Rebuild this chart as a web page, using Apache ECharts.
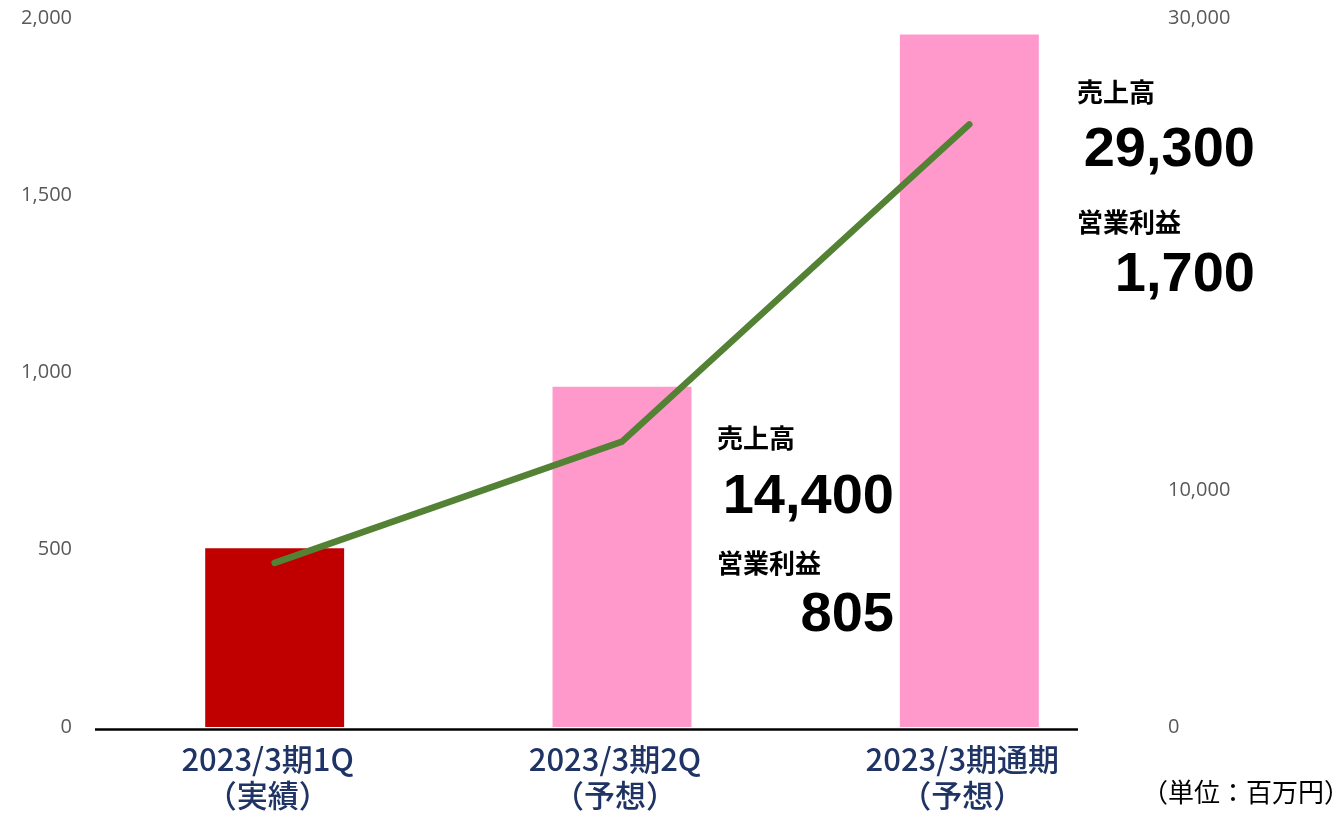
<!DOCTYPE html>
<html><head><meta charset="utf-8">
<script src="https://cdn.jsdelivr.net/npm/echarts@6/dist/echarts.min.js"></script>
<style>html,body{margin:0;padding:0;background:#fff}#c{width:1342px;height:819px}</style>
</head><body><div id="c"></div>
<script>
const categories = ['2023/3期1Q\n（実績）', '2023/3期2Q\n（予想）', '2023/3期通期\n（予想）'];
const sales = [7560, 14400, 29300];          // 売上高 (right axis)
const profit = [463, 805, 1700];             // 営業利益 (left axis)
const barColors = ['#C00000', '#FF99CC', '#FF99CC'];
const leftTicks = ['0', '500', '1,000', '1,500', '2,000'];
const rightTicks = ['0', '10,000', '', '30,000'];
const unitLabel = '（単位：百万円）';
const salesName = '売上高';
const profitName = '営業利益';

const fmt = v => v.toLocaleString('en-US');
const chart = echarts.init(document.getElementById('c'));
const cjk = '"Noto Sans CJK JP", sans-serif';
const num = '"Liberation Sans", Arial, sans-serif';

function annot(i, x, rightPad, tops) {
  return [
    {type:'text', left:x, top:tops[0], style:{text:salesName, font:'bold 26px ' + cjk, fill:'#000'}},
    {type:'text', right:rightPad, top:tops[1], style:{text:fmt(sales[i]), font:'bold 56px ' + num, fill:'#000', textAlign:'right'}},
    {type:'text', left:x, top:tops[2], style:{text:profitName, font:'bold 26px ' + cjk, fill:'#000'}},
    {type:'text', right:rightPad, top:tops[3], style:{text:fmt(profit[i]), font:'bold 56px ' + num, fill:'#000', textAlign:'right'}}
  ];
}

chart.setOption({
  animation:false,
  grid:{left:101, right:199, top:18, bottom:92},
  xAxis:{type:'category', data:categories,
    axisLine:{show:false}, axisTick:{show:false},
    axisLabel:{color:'#1F3464', fontFamily:cjk, fontWeight:500, fontSize:31, lineHeight:36, margin:14,
      padding:[0,14,0,0]}},
  yAxis:[
    {type:'value', min:0, max:2000, interval:500, position:'left',
      axisLine:{show:false}, axisTick:{show:false}, splitLine:{show:false},
      axisLabel:{color:'#595959', fontFamily:'"Open Sans", sans-serif', fontSize:20, margin:29,
        formatter:(v)=>leftTicks[Math.round(v/500)]}},
    {type:'value', min:0, max:30000, interval:10000, position:'right',
      axisLine:{show:false}, axisTick:{show:false}, splitLine:{show:false},
      axisLabel:{color:'#595959', fontFamily:'"Open Sans", sans-serif', fontSize:20, margin:25,
        formatter:(v)=>rightTicks[Math.round(v/10000)]}}
  ],
  series:[
    {type:'bar', yAxisIndex:1, barWidth:'40%',
      data:sales.map((v,i)=>({value:v, itemStyle:{color:barColors[i]}}))},
    {type:'line', yAxisIndex:0, data:profit, symbol:'none',
      lineStyle:{color:'#548235', width:6.5, cap:'round', join:'round'}, z:5}
  ],
  graphic:[
    {type:'line', shape:{x1:95, y1:729.5, x2:1078, y2:729.5}, style:{stroke:'#000', lineWidth:2.5}, z:10},
    ...annot(1, 717, 448, [425, 470, 550, 588]),
    ...annot(2, 1077, 87, [79, 123, 209, 248]),
    {type:'text', right:-8, top:779, style:{text:unitLabel, font:'26px ' + cjk, fill:'#000'}}
  ]
});
</script></body></html>
